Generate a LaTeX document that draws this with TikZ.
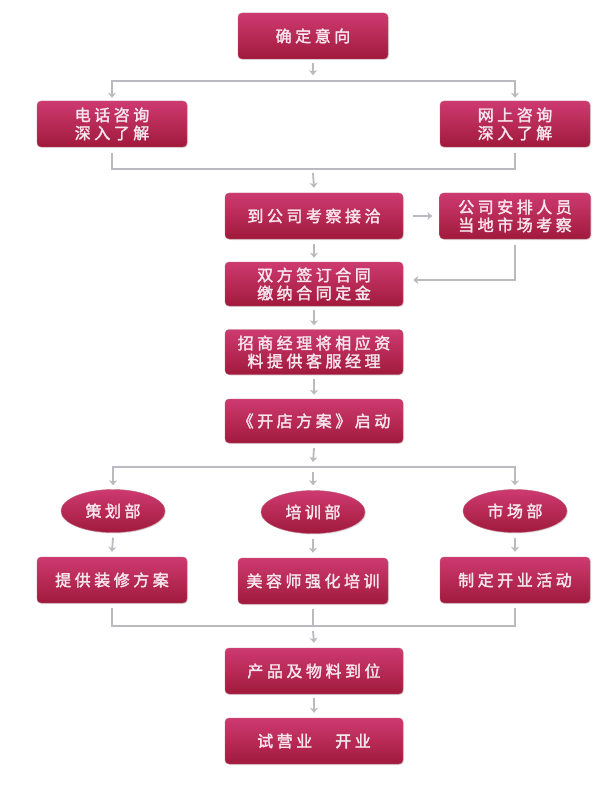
\documentclass[tikz,border=0pt]{standalone}
\usepackage{fontspec}
\newfontfamily\cjk[LetterSpace=22,FakeBold=2]{Noto Sans CJK SC}
\usetikzlibrary{shapes.geometric,arrows.meta,shadows,calc}
\definecolor{boxtop}{RGB}{206,58,112}
\definecolor{boxbot}{RGB}{160,26,60}
\definecolor{txt}{RGB}{248,230,238}
\definecolor{conn}{RGB}{186,186,192}
\begin{document}
\begin{tikzpicture}[x=1pt,y=-1pt,
  base/.style={top color=boxtop,bottom color=boxbot,draw=boxbot!70!white,line width=0.4pt,
    text=txt,align=center,inner sep=0pt,
    font=\cjk\fontsize{16}{18}\selectfont,
    drop shadow={opacity=0.25,shadow xshift=1pt,shadow yshift=-1pt}},
  box/.style={base,rounded corners=4pt,minimum height=46pt},
  sbox/.style={box,minimum width=150pt},
  wbox/.style={box,minimum width=178pt},
  ell/.style={base,ellipse,minimum width=104pt,minimum height=43pt},
  ln/.style={draw=conn,line width=1.8pt},
  arr/.style={ln,-{Stealth[length=5pt,width=8pt,inset=1.5pt]}}
]
\useasboundingbox (0,0) rectangle (610,786);
\fill[white] (0,0) rectangle (610,786);

\node[sbox] (n1) at (313,36) {确定意向};
\node[sbox] (n2) at (112,124) {电话咨询\\深入了解};
\node[sbox] (n3) at (515,124) {网上咨询\\深入了解};
\node[wbox] (n4) at (314,216) {到公司考察接洽};
\node[box,minimum width=151pt] (n5) at (515,216) {公司安排人员\\当地市场考察};
\node[wbox,minimum height=44pt] (n6) at (314,284) {双方签订合同\\缴纳合同定金};
\node[wbox,minimum height=45pt] (n7) at (314,352) {招商经理将相应资\\料提供客服经理};
\node[wbox,minimum height=44pt] (n8) at (314,421) {《开店方案》启动};
\node[ell] (e1) at (113,511) {策划部};
\node[ell] (e2) at (313,512) {培训部};
\node[ell] (e3) at (515,511) {市场部};
\node[sbox] (b1) at (112,580) {提供装修方案};
\node[sbox] (b2) at (313,581) {美容师强化培训};
\node[sbox] (b3) at (515,580) {制定开业活动};
\node[wbox] (n9) at (314,671) {产品及物料到位};
\node[wbox] (n10) at (314,741) {试营业　开业};

\coordinate (t1) at (313,81);
\coordinate (t2) at (313,169);
\coordinate (t3) at (313,467);
\coordinate (t4) at (313,626);

\draw[arr] ($(n1.south)+(0,4)$) -- ($(n1.south)+(0,16)$);
\draw[arr,shorten >=3pt] (t1) -| (n2.north);
\draw[arr,shorten >=3pt] (t1) -| (n3.north);
\draw[ln] ($(n2.south)+(0,6)$) |- (t2) -| ($(n3.south)+(0,6)$);
\draw[arr] ($(t2)+(0,4)$) -- ($(n4.north)+(0,-5)$);
\draw[arr] ($(n4.south)+(0,5)$) -- ($(n6.north)+(0,-4)$);
\draw[arr] ($(n4.east)+(10,0)$) -- ($(n5.west)+(-7,0)$);
\draw[arr] ($(n5.south)+(0,6)$) |- ($(n6.east)+(10,-4)$);
\draw[arr] ($(n6.south)+(0,4)$) -- ($(n7.north)+(0,-4)$);
\draw[arr] ($(n7.south)+(0,4)$) -- ($(n8.north)+(0,-4)$);
\draw[arr] ($(n8.south)+(0,5)$) -- ($(t3)+(0,-5)$);
\draw[arr,shorten >=4pt] (t3) -| (e1.north);
\draw[arr,shorten >=4pt] (t3) -| (e3.north);
\draw[arr] ($(t3)+(0,5)$) -- ($(e2.north)+(0,-5)$);
\draw[arr] ($(e1.south)+(0,5)$) -- ($(b1.north)+(0,-5)$);
\draw[arr] ($(e2.south)+(0,5)$) -- ($(b2.north)+(0,-5)$);
\draw[arr] ($(e3.south)+(0,5)$) -- ($(b3.north)+(0,-5)$);
\draw[ln] ($(b1.south)+(0,5)$) |- (t4) -| ($(b3.south)+(0,5)$);
\draw[ln] ($(b2.south)+(0,5)$) -- (t4);
\draw[arr] ($(t4)+(0,5)$) -- ($(n9.north)+(0,-5)$);
\draw[arr] ($(n9.south)+(0,4)$) -- ($(n10.north)+(0,-5)$);
\end{tikzpicture}
\end{document}
